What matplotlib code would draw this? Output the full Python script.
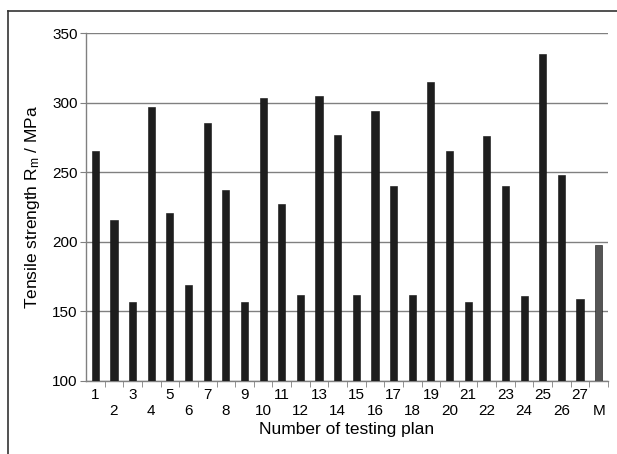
import matplotlib
matplotlib.use("Agg")
import matplotlib.pyplot as plt
from matplotlib.lines import Line2D
import numpy as np

plt.rcParams['font.family'] = ['Liberation Sans', 'DejaVu Sans']
plt.rcParams['mathtext.fontset'] = 'custom'
plt.rcParams['mathtext.rm'] = 'Liberation Sans'
plt.rcParams['mathtext.it'] = 'Liberation Sans'

# data
plans = [str(i) for i in range(1, 28)] + ['M']
strength = [265, 216, 157, 297, 221, 169, 285, 237, 157, 303,
            227, 162, 305, 277, 162, 294, 240, 162, 315, 265,
            157, 276, 240, 161, 335, 248, 159, 198]
y_ticks = [100, 150, 200, 250, 300, 350]

barColor = '#1e1e1e'
refColor = '#555555'
gridColor = '#808080'

fig = plt.figure(figsize=(6.17, 4.54), dpi=100)
ax = fig.add_axes([0.1394, 0.1608, 0.8460, 0.7665])

x = np.arange(1, len(plans) + 1)
colors = [barColor] * (len(plans) - 1) + [refColor]
ax.bar(x, np.array(strength) - 100, bottom=100, width=0.38,
       color=colors, edgecolor='#111111', linewidth=0.4, zorder=3)

ax.set_xlim(0.5, len(plans) + 0.5)
ax.set_ylim(100, 350)
ax.set_yticks(y_ticks)
ax.yaxis.grid(True, color=gridColor, lw=1.0, zorder=0)
ax.tick_params(axis='y', direction='out', length=4, color=gridColor,
               labelsize=11, pad=2)

# x labels alternate between two rows
labels = [p if i % 2 == 0 else '\n' + p for i, p in enumerate(plans)]
ax.set_xticks(x, labels=labels)
ax.tick_params(axis='x', which='major', length=0, labelsize=11, pad=5)
ax.set_xticks(np.arange(1.5, len(plans) + 1, 1), minor=True)
ax.tick_params(axis='x', which='minor', direction='out', length=4,
               color=gridColor)

for s in ['top', 'right']:
    ax.spines[s].set_visible(False)
for s in ['left', 'bottom']:
    ax.spines[s].set_color(gridColor)
    ax.spines[s].set_linewidth(1.0)

ax.set_xlabel('Number of testing plan', fontsize=12.5, labelpad=3)
ax.set_ylabel(r'Tensile strength R$_\mathrm{m}$ / MPa', fontsize=12.5, labelpad=7)

# outer frame (left and top edges)
fig.add_artist(Line2D([8 / 617, 8 / 617], [0, 1 - 11 / 454],
                      transform=fig.transFigure, color='#333333', lw=1.2))
fig.add_artist(Line2D([8 / 617, 1], [1 - 11 / 454, 1 - 11 / 454],
                      transform=fig.transFigure, color='#333333', lw=1.2))

fig.savefig('out.png', dpi=100)
